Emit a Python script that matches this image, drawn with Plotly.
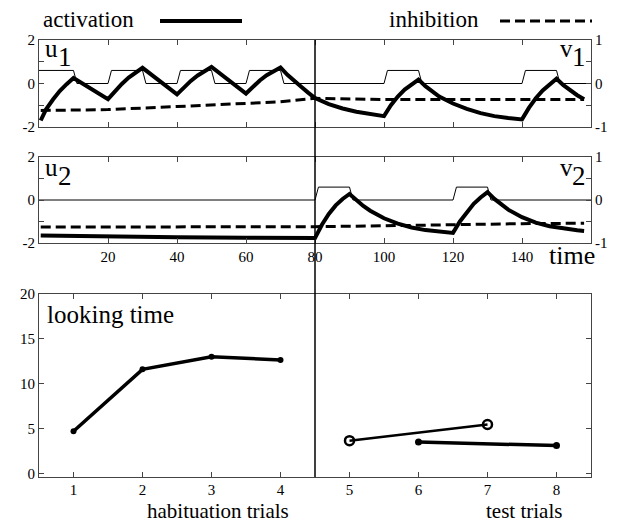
import plotly.graph_objects as go

# ---------------- data ----------------
# top panel (u1 activation, v1 inhibition, stimulus 1)
t_u1 = [0.5, 2, 4, 6, 8, 10, 20, 22, 24, 26, 28, 30, 40, 42, 44, 46, 48, 50, 60, 62, 64, 66, 68, 70,
        72, 74, 76, 78, 80, 84, 88, 92, 96, 100, 102, 104, 106, 108, 110, 112, 114, 116, 120, 124, 128,
        132, 136, 140, 142, 144, 146, 148, 150, 152, 154, 156, 158]
u1 = [-1.7, -1.2, -0.75, -0.35, -0.03, 0.25, -0.72, -0.35, -0.02, 0.27, 0.52, 0.72, -0.5, -0.17, 0.12,
      0.37, 0.58, 0.76, -0.46, -0.14, 0.14, 0.38, 0.57, 0.74, 0.4, 0.1, -0.15, -0.42, -0.67, -0.95,
      -1.15, -1.3, -1.41, -1.5, -1.0, -0.6, -0.28, -0.03, 0.18, -0.12, -0.38, -0.6, -0.92, -1.17,
      -1.36, -1.5, -1.59, -1.65, -1.12, -0.68, -0.32, -0.03, 0.22, -0.08, -0.33, -0.54, -0.72]
t_v1 = [0.5, 20, 40, 60, 70, 80, 90, 100, 120, 140, 158]
v1 = [-0.62, -0.6, -0.53, -0.46, -0.42, -0.34, -0.36, -0.37, -0.37, -0.37, -0.37]
t_s1 = [0, 10, 11, 20, 21, 30, 31, 40, 41, 50, 51, 60, 61, 70, 71, 100, 101, 110, 111, 140, 141, 150,
        151, 160]
s1 = [0.6, 0.6, 0, 0, 0.6, 0.6, 0, 0, 0.6, 0.6, 0, 0, 0.6, 0.6, 0, 0, 0.6, 0.6, 0, 0, 0.6, 0.6, 0, 0]

# middle panel (u2, v2, stimulus 2)
t_u2 = [0.5, 20, 40, 60, 80, 82, 84, 86, 88, 90, 92, 94, 96, 100, 104, 108, 112, 116, 120, 122, 124,
        126, 128, 130, 132, 134, 136, 140, 144, 148, 152, 156, 158]
u2 = [-1.65, -1.7, -1.73, -1.75, -1.77, -1.15, -0.65, -0.25, 0.05, 0.28, -0.02, -0.28, -0.5, -0.85,
      -1.1, -1.28, -1.4, -1.47, -1.53, -1.0, -0.55, -0.18, 0.12, 0.37, 0.05, -0.22, -0.45, -0.8,
      -1.05, -1.22, -1.33, -1.41, -1.44]
t_v2 = [0.5, 40, 80, 100, 120, 140, 158]
v2 = [-0.63, -0.63, -0.62, -0.6, -0.57, -0.55, -0.54]
t_s2 = [0, 80, 81, 90, 91, 120, 121, 130, 131, 160]
s2 = [0, 0, 0.6, 0.6, 0, 0, 0.6, 0.6, 0, 0]

# bottom panel (looking time)
hab_trials = [1, 2, 3, 4]
hab_time = [4.7, 11.6, 13.0, 12.65]
test_open_trials = [5, 7]
test_open_time = [3.65, 5.45]
test_fill_trials = [6, 8]
test_fill_time = [3.5, 3.1]

time_ticks = [20, 40, 60, 80, 100, 120, 140]
trial_ticks = [1, 2, 3, 4, 5, 6, 7, 8]
split_time = 80

# ---------------- figure ----------------
W, H = 624, 524
SERIF = "Liberation Serif, DejaVu Serif, serif"
XD = [39 / W, 591 / W]
def ydom(top, bot):
    return [1 - bot / H, 1 - top / H]
D1 = ydom(40, 127)
D2 = ydom(157, 243)
D3 = ydom(294, 477)

fig = go.Figure()
thick = dict(color="black", width=4)
dash = dict(color="black", width=3, dash="10px,5px")
thin = dict(color="black", width=1)

fig.add_trace(go.Scatter(x=t_s1, y=s1, mode="lines", line=thin, xaxis="x", yaxis="y"))
fig.add_trace(go.Scatter(x=t_u1, y=u1, mode="lines", line=thick, xaxis="x", yaxis="y"))
fig.add_trace(go.Scatter(x=t_v1, y=v1, mode="lines", line=dash, xaxis="x", yaxis="y2"))

fig.add_trace(go.Scatter(x=t_s2, y=s2, mode="lines", line=thin, xaxis="x2", yaxis="y3"))
fig.add_trace(go.Scatter(x=t_u2, y=u2, mode="lines", line=thick, xaxis="x2", yaxis="y3"))
fig.add_trace(go.Scatter(x=t_v2, y=v2, mode="lines", line=dash, xaxis="x2", yaxis="y4"))

fig.add_trace(go.Scatter(x=hab_trials, y=hab_time, mode="lines+markers",
                         line=dict(color="black", width=3.5),
                         marker=dict(symbol="circle", size=6, color="black"),
                         xaxis="x3", yaxis="y5"))
fig.add_trace(go.Scatter(x=test_open_trials, y=test_open_time, mode="lines+markers",
                         line=dict(color="black", width=2.5),
                         marker=dict(symbol="circle-open", size=9, color="black",
                                     line=dict(width=2.5, color="black")),
                         xaxis="x3", yaxis="y5"))
fig.add_trace(go.Scatter(x=test_fill_trials, y=test_fill_time, mode="lines+markers",
                         line=dict(color="black", width=3.5),
                         marker=dict(symbol="circle", size=7, color="black"),
                         xaxis="x3", yaxis="y5"))

tickfont = dict(family=SERIF, size=15, color="black")
axcommon = dict(showgrid=False, zeroline=False, showline=True, linecolor="#444", linewidth=1,
                ticks="inside", ticklen=5, tickcolor="#444", tickfont=tickfont, automargin=False)

ylab_left = dict(range=[-2, 2], tickvals=[-2, -1, 0, 1, 2], ticktext=["-2", "", "0", "", "2"])
ylab_right = dict(range=[-1, 1], tickvals=[-1, -0.5, 0, 0.5, 1], ticktext=["-1", "", "0", "", "1"],
                  side="right")

fig.update_layout(
    width=W, height=H, margin=dict(l=0, r=0, t=0, b=0),
    paper_bgcolor="white", plot_bgcolor="white", showlegend=False,
    font=dict(family=SERIF, color="black"),
    xaxis=dict(domain=XD, anchor="y", range=[0, 160], tickvals=time_ticks, showticklabels=False,
               mirror="ticks", **axcommon),
    yaxis=dict(domain=D1, anchor="x", **ylab_left, **axcommon),
    yaxis2=dict(overlaying="y", anchor="x", **ylab_right, **axcommon),
    xaxis2=dict(domain=XD, anchor="y3", range=[0, 160], tickvals=time_ticks, mirror="ticks", **axcommon),
    yaxis3=dict(domain=D2, anchor="x2", **ylab_left, **axcommon),
    yaxis4=dict(overlaying="y3", anchor="x2", **ylab_right, **axcommon),
    xaxis3=dict(domain=XD, anchor="y5", range=[0.5, 8.5], tickvals=trial_ticks, mirror="ticks",
                ticklabelstandoff=-1, **axcommon),
    yaxis5=dict(domain=D3, anchor="x3", range=[-0.4, 20], tickvals=[0, 5, 10, 15, 20], mirror="ticks",
                **axcommon),
)

def px(x):
    return x / W
def py(y):
    return 1 - y / H

ann = []
def txt(s, x, y, size, xanchor="left", yanchor="middle"):
    ann.append(dict(text=s, x=px(x), y=py(y), xref="paper", yref="paper", showarrow=False,
                    xanchor=xanchor, yanchor=yanchor, borderpad=0,
                    font=dict(family=SERIF, size=size, color="black")))

txt("activation", 42, 20, 23)
txt("inhibition", 388, 20, 23)
# panel labels: letter plus a large lowered index
txt("u", 44, 48, 25)
txt("1", 57, 57, 27)
txt("v", 574, 48, 25, xanchor="right")
txt("1", 587, 57, 27, xanchor="right")
txt("u", 44, 167, 25)
txt("2", 57, 176, 27)
txt("v", 574, 167, 25, xanchor="right")
txt("2", 587, 176, 27, xanchor="right")
txt("time", 572, 256, 26, xanchor="center")
txt("looking time", 46, 314, 25)
txt("habituation trials", 218, 523.5, 21, xanchor="center", yanchor="bottom")
txt("test trials", 524, 523.5, 21, xanchor="center", yanchor="bottom")
fig.update_layout(annotations=ann)

shapes = [
    dict(type="line", xref="paper", yref="paper", x0=px(160), x1=px(242), y0=py(21), y1=py(21),
         line=dict(color="black", width=4)),
    dict(type="line", xref="paper", yref="paper", x0=px(500), x1=px(592), y0=py(21), y1=py(21),
         line=dict(color="black", width=3, dash="10px,5px")),
    dict(type="line", xref="x", yref="paper", x0=split_time, x1=split_time, y0=D3[0], y1=D1[1],
         line=dict(color="black", width=1.5)),
]
fig.update_layout(shapes=shapes)

fig.write_html("out.html")
